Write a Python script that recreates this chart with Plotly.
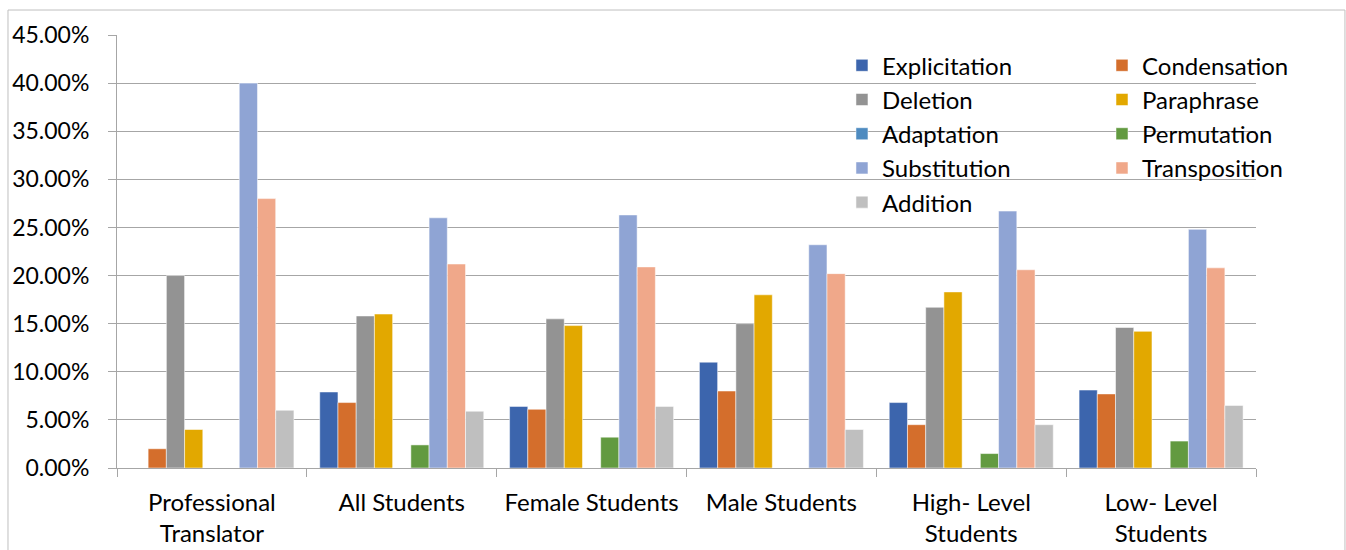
import plotly.graph_objects as go

categories = ["Professional<br>Translator", "All Students", "Female Students",
              "Male Students", "High- Level<br>Students", "Low- Level<br>Students"]

explicitation = [0.0, 7.9, 6.4, 11.0, 6.8, 8.1]
condensation = [2.0, 6.8, 6.1, 8.0, 4.5, 7.7]
deletion = [20.0, 15.8, 15.5, 15.0, 16.7, 14.6]
paraphrase = [4.0, 16.0, 14.8, 18.0, 18.3, 14.2]
adaptation = [0.0, 0.0, 0.0, 0.0, 0.0, 0.0]
permutation = [0.0, 2.4, 3.2, 0.0, 1.5, 2.8]
substitution = [40.0, 26.0, 26.3, 23.2, 26.7, 24.8]
transposition = [28.0, 21.2, 20.9, 20.2, 20.6, 20.8]
addition = [6.0, 5.9, 6.4, 4.0, 4.5, 6.5]

series = [
    ("Explicitation", explicitation, "#3C65AD", "legend"),
    ("Condensation", condensation, "#D46E2C", "legend2"),
    ("Deletion", deletion, "#939393", "legend"),
    ("Paraphrase", paraphrase, "#E2A800", "legend2"),
    ("Adaptation", adaptation, "#4E8BC0", "legend"),
    ("Permutation", permutation, "#629A40", "legend2"),
    ("Substitution", substitution, "#8FA4D4", "legend"),
    ("Transposition", transposition, "#F0A88A", "legend2"),
    ("Addition", addition, "#BFBFBF", "legend"),
]

FONT = "Lato"
fig = go.Figure()
for name, vals, color, lg in series:
    fig.add_trace(go.Bar(
        name=name, x=categories, y=vals,
        marker=dict(color=color, line=dict(color="rgba(255,255,255,0.5)", width=1)),
        legend=lg,
    ))

legend_common = dict(
    orientation="v", font=dict(family=FONT, size=24, color="#000000"),
    bgcolor="rgba(255,255,255,0)", yanchor="top", xanchor="left",
    tracegroupgap=0, itemclick=False,
)
fig.update_layout(
    width=1346, height=550,
    margin=dict(l=117, r=90, t=35, b=82, autoexpand=False),
    paper_bgcolor="white", plot_bgcolor="white",
    barmode="group", bargap=0.136, bargroupgap=0,
    font=dict(family=FONT, size=24, color="#000000"),
    legend=dict(x=0.6365, y=0.981, **legend_common),
    legend2=dict(x=0.8648, y=0.981, **legend_common),
    showlegend=True,
)
fig.update_xaxes(
    showline=True, linecolor="#A6A6A6", linewidth=1,
    ticks="outside", tickson="boundaries", ticklen=8, tickcolor="#A6A6A6",
    tickfont=dict(family=FONT, size=24), showgrid=False,
    ticklabelstandoff=13, automargin=False,
)
fig.update_yaxes(
    range=[0, 45], dtick=5, tickformat=".2f", ticksuffix="%",
    showline=True, linecolor="#A6A6A6", linewidth=1,
    ticks="outside", ticklen=8, tickcolor="#A6A6A6",
    showgrid=True, gridcolor="#A6A6A6", gridwidth=1,
    zeroline=False, ticklabelstandoff=14, automargin=False,
    tickfont=dict(family=FONT, size=23),
)
fig.add_shape(type="rect", xref="paper", yref="paper",
              x0=-0.0957, x1=1.0781, y0=-0.3, y1=1.0577,
              line=dict(color="#BFBFBF", width=1), fillcolor="rgba(0,0,0,0)", layer="below")

fig.write_html("out.html")
